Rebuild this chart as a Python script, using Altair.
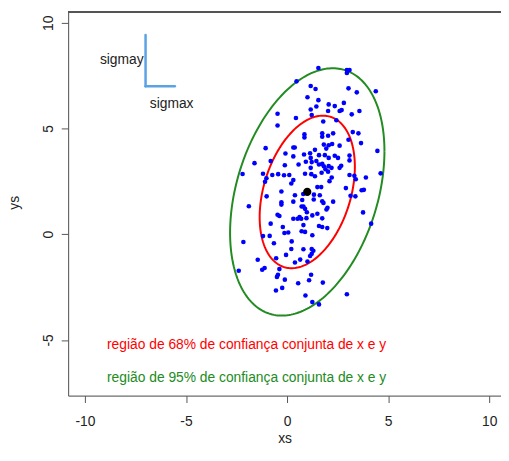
import numpy as np
import pandas as pd
import altair as alt

# ---- scatter sample ----
xs_pts = [
    1.55, 2.96, 3.09, 2.96, 0.47, 1.17, 1.41, 3.04, 3.45, 4.39,
    1.01, 1.55, 2.06, 2.36, 2.81, 1.45, 1.17, 2.03, 2.60, 2.70,
    3.20, 3.58, -0.47, -0.47, 0.44, 1.22, 2.44, 1.79, 3.25, 3.53,
    0.86, 0.86, 1.74, 1.74, 2.03, 2.28, 3.04, 3.66, -1.06, 0.31,
    0.38, 1.38, 1.82, 2.06, 2.23, 1.94, 2.60, -0.08, 0.31, 0.84,
    1.14, 1.17, 1.58, 1.87, 2.06, 2.36, 2.52, 3.09, 3.09, 4.47,
    -1.61, -0.11, 0.57, 0.93, 1.22, 1.45, 1.58, 1.74, 1.82, 2.06,
    1.90, 2.03, 2.20, 2.68, 2.60, 1.17, 3.90, 4.63, -2.20, -1.19,
    -0.73, -0.44, -0.15, 0.11, 0.89, 1.20, 1.38, 1.71, 2.21, 2.10,
    3.09, -1.09, 0.31, 0.21, 1.50, 1.69, 2.91, -0.81, 3.33, 3.40,
    -1.02, 3.69, 3.80, -0.28, -1.01, 0.39, 0.80, 1.33, 1.62,
    3.14, 3.38, -0.28, -0.28, 0.31, 0.75, 1.32, 1.74, 1.80, 2.28,
    -1.89, 0.72, 0.81, 0.89, 2.00, 1.95, 0.98, -0.47, -0.38, 0.62,
    0.52, 0.31, 0.70, 0.96, 1.25, 1.50, 1.74, 3.76, 4.16, -0.81,
    -0.21, 0.81, 1.58, 1.74, 1.99, -0.13, 0.06, 0.72, 0.89, 1.25,
    -1.19, -0.86, -2.16, -0.65, 0.23, 0.21, 0.81, 1.22, 1.30, 1.22,
    1.14, -0.05, -0.54, 0.65, 0.39, 1.01, -1.45, -1.11, -1.23, -0.38,
    -2.39, -0.45, -0.50, -0.11, 1.19, 1.09, 0.55, 1.77, -0.24, -0.55,
    0.91, 2.96, 1.25, 1.58,
]
ys_pts = [
    7.86, 7.77, 7.77, 7.63, 7.23, 7.01, 6.87, 6.90, 6.71, 6.76,
    6.48, 6.34, 6.14, 6.06, 6.21, 6.04, 5.90, 5.83, 5.83, 5.87,
    5.67, 5.83, 5.70, 5.14, 5.50, 5.64, 5.39, 5.33, 4.83, 4.77,
    4.72, 4.58, 4.77, 4.61, 4.66, 4.77, 4.47, 4.31, 4.07, 4.10,
    4.10, 3.99, 4.24, 4.21, 4.27, 4.05, 4.19, 3.82, 3.68, 3.77,
    3.83, 3.61, 3.74, 3.74, 3.61, 3.71, 3.61, 3.72, 3.49, 3.94,
    3.36, 3.26, 3.30, 3.43, 3.41, 3.46, 3.30, 3.33, 3.21, 3.22,
    3.07, 2.96, 3.14, 3.24, 3.14, 3.14, 2.68, 2.88, 2.85, 2.86,
    2.80, 2.84, 2.79, 2.80, 2.86, 2.84, 2.74, 2.91, 2.68, 2.51,
    2.80, 2.48, 2.56, 2.40, 2.23, 2.23, 2.18, 3.46, 2.76, 2.60,
    2.65, 2.08, 2.10, 2.02, 1.79, 1.84, 1.90, 1.87, 1.84,
    1.82, 1.79, 1.51, 1.40, 1.54, 1.62, 1.64, 1.56, 1.48, 1.54,
    1.32, 1.31, 1.31, 1.20, 1.25, 1.17, 1.04, 0.92, 0.86, 0.81,
    0.73, 0.73, 0.73, 0.76, 0.89, 0.97, 0.75, 1.03, 0.50, 0.50,
    0.34, 0.43, 0.39, 0.34, 0.29, 0.06, 0.08, 0.14, 0.11, -0.05,
    -0.09, -0.08, -0.37, -0.43, -0.34, -0.70, -0.71, -0.70, -0.78, -0.93,
    -1.03, -0.98, -1.14, -1.20, -1.34, -1.29, -1.21, -1.60, -1.68, -1.65,
    -1.73, -1.92, -2.02, -2.15, -1.92, -2.18, -2.32, -2.29, -2.54, -2.66,
    -2.90, -2.84, -3.21, -3.32,
]

# ---- distribution parameters ----
center_x, center_y = 1.0, 2.0
sigma_x_ell, sigma_y_ell, rho = 1.56, 2.39, 0.33
level_names = ["68%", "95%"]
level_chi2 = [2.279, 5.991]
level_colors = ["#ff0000", "#228b22"]

sigma_origin_x, sigma_origin_y = -7.0, 7.0
sigmax_len, sigmay_len = 1.45, 2.42

annot_texts = ["região de 68% de confiança conjunta de x e y",
               "região de 95% de confiança conjunta de x e y"]
annot_x = [-2.0, -2.0]
annot_y = [-5.25, -6.80]

x_ticks = [-10, -5, 0, 5, 10]
y_ticks = [-5, 0, 5, 10]
x_domain = [-10.83, 10.585]
y_domain = [-7.635, 10.508]

FONT = "Liberation Sans"
FS = 14
W, H = 439, 389

# ---- tables ----
pts = pd.DataFrame({"x": xs_pts, "y": ys_pts})

t = np.linspace(0, 2 * np.pi, 241)
rows = []
for name, c2 in zip(level_names, level_chi2):
    r = np.sqrt(c2)
    ex = center_x + r * sigma_x_ell * np.cos(t)
    ey = center_y + r * sigma_y_ell * (rho * np.cos(t) + np.sqrt(1 - rho ** 2) * np.sin(t))
    for i, (a, b) in enumerate(zip(ex, ey)):
        rows.append({"level": name, "i": i, "x": a, "y": b})
ell = pd.DataFrame(rows)

ctr = pd.DataFrame({"x": [center_x], "y": [center_y]})
sig = pd.DataFrame({
    "x": [sigma_origin_x, sigma_origin_x],
    "y": [sigma_origin_y, sigma_origin_y],
    "x2": [sigma_origin_x, sigma_origin_x + sigmax_len],
    "y2": [sigma_origin_y + sigmay_len, sigma_origin_y],
})
sig_lab_y = pd.DataFrame({"x": [sigma_origin_x], "y": [8.22], "t": ["sigmay"]})
sig_lab_x = pd.DataFrame({"x": [-5.71], "y": [6.17], "t": ["sigmax"]})
ann = pd.DataFrame({"x": annot_x, "y": annot_y, "t": annot_texts, "c": level_colors})

xscale = alt.Scale(domain=x_domain, nice=False, zero=False)
yscale = alt.Scale(domain=y_domain, nice=False, zero=False)

xaxis = alt.Axis(values=x_ticks, title="xs", grid=False, tickSize=7, labelPadding=12,
                 domainColor="#555", tickColor="#555", labelColor="#222", labelFontSize=FS,
                 labelFont=FONT, titleFont=FONT, titleFontSize=FS, titleFontWeight="normal",
                 titleColor="#222", titleY=48, titleBaseline="alphabetic",
                 labelExpr="'' + datum.value")
yaxis = alt.Axis(values=y_ticks, title="ys", grid=False, tickSize=7, labelPadding=9,
                 labelAngle=270, labelAlign="center", labelBaseline="alphabetic",
                 domainColor="#555", tickColor="#555", labelColor="#222", labelFontSize=FS,
                 labelFont=FONT, titleFont=FONT, titleFontSize=FS, titleFontWeight="normal",
                 titleColor="#222", titleAngle=270, titleX=-54, titleY=193,
                 titleAlign="center", titleBaseline="middle",
                 labelExpr="'' + datum.value")

X = alt.X("x:Q", scale=xscale, axis=xaxis)
Y = alt.Y("y:Q", scale=yscale, axis=yaxis)

ellipses = alt.Chart(ell).mark_line(strokeWidth=2).encode(
    x=X, y=Y, order="i:Q",
    color=alt.Color("level:N", scale=alt.Scale(domain=level_names, range=level_colors), legend=None),
)
points = alt.Chart(pts).mark_circle(size=22, color="#0000ff", opacity=1).encode(x="x:Q", y="y:Q")
center = alt.Chart(ctr).mark_circle(size=70, color="#000000", opacity=1).encode(x="x:Q", y="y:Q")
sigma_lines = alt.Chart(sig).mark_rule(color="#5aa2e4", strokeWidth=2.5, strokeCap="round").encode(
    x="x:Q", y="y:Q", x2="x2:Q", y2="y2:Q")
lab_y = alt.Chart(sig_lab_y).mark_text(align="right", baseline="middle", dx=-2, fontSize=FS,
                                       font=FONT, color="#222").encode(x="x:Q", y="y:Q", text="t:N")
lab_x = alt.Chart(sig_lab_x).mark_text(align="center", baseline="middle", fontSize=FS,
                                       font=FONT, color="#222").encode(x="x:Q", y="y:Q", text="t:N")
annots = alt.Chart(ann).mark_text(align="center", baseline="middle", fontSize=FS, font=FONT).encode(
    x="x:Q", y="y:Q", text="t:N", color=alt.Color("c:N", scale=None))
top_border = alt.Chart(pts).mark_rule(color="#555", strokeWidth=1).encode(
    x=alt.value(0), x2=alt.value(W), y=alt.value(0))

chart = alt.layer(ellipses, points, center, sigma_lines, lab_y, lab_x, annots, top_border).properties(
    width=W, height=H,
    autosize=alt.AutoSizeParams(type="none"),
    padding={"left": 61, "top": 1, "right": 0, "bottom": 50},
).configure_view(stroke=None).configure(font=FONT)

chart.save("out.html", embed_options={"renderer": "svg", "actions": False})
